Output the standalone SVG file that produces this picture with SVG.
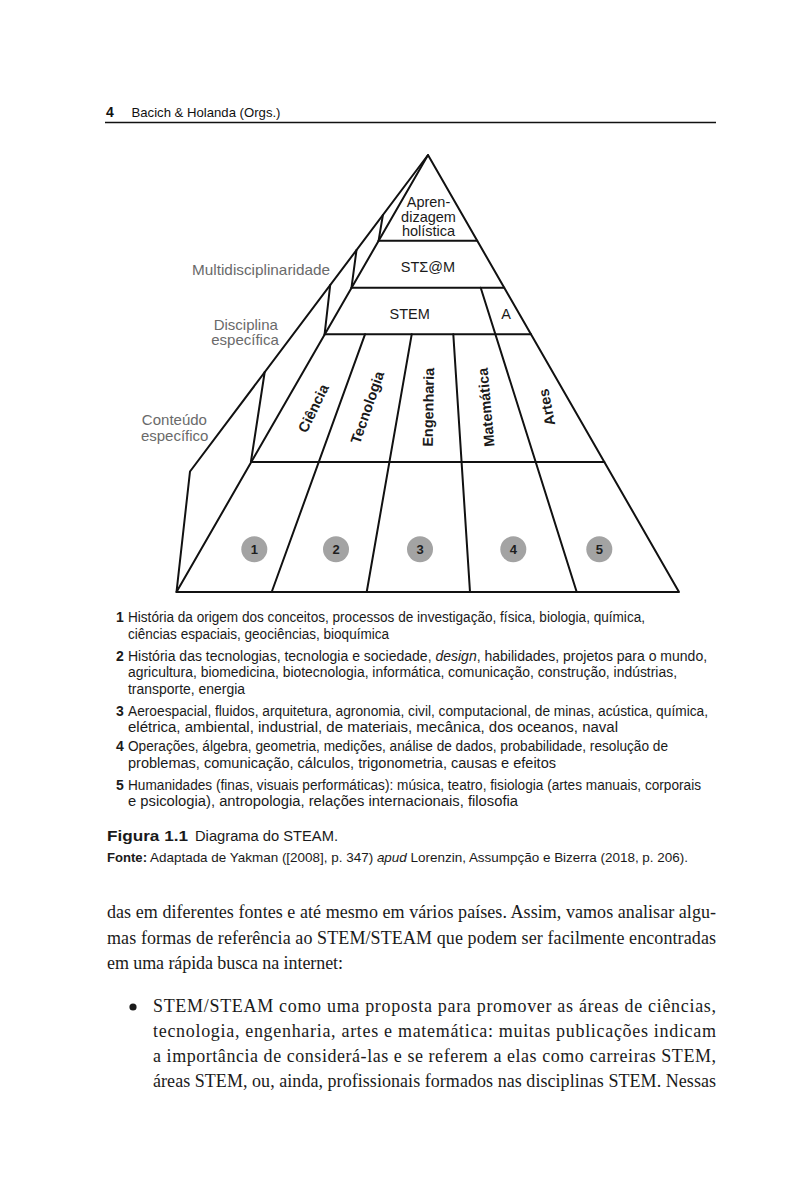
<svg xmlns="http://www.w3.org/2000/svg" width="812" height="1200" viewBox="0 0 812 1200">
<defs>
<style>
.sans{font-family:'Liberation Sans',Arial,sans-serif;}
.serif{font-family:'Liberation Serif','Times New Roman',serif;}
.ln{stroke:#111;stroke-width:2;fill:none;stroke-linecap:round;stroke-linejoin:round;}
.gray{fill:#6a6a6a;font-size:15px;}
.lvl{fill:#1a1a1a;font-size:14.5px;}
.disc{fill:#1a1a1a;font-size:14.5px;font-weight:bold;}
.circ{fill:#a3a3a3;}
.num{fill:#1e1e1e;font-size:13px;font-weight:bold;}
.list{fill:#1a1a1a;font-size:14px;}
.body{fill:#1a1a1a;font-size:18px;}
</style>
</defs>
<rect x="0" y="0" width="812" height="1200" fill="#fff"/>

<g id="header">
<text class="sans" x="106" y="117" font-size="14" font-weight="bold" fill="#111">4</text>
<text class="sans" x="131.5" y="117" font-size="13.5" fill="#111" textLength="149" lengthAdjust="spacingAndGlyphs">Bacich &amp; Holanda (Orgs.)</text>
<line x1="105" y1="122.5" x2="716" y2="122.5" stroke="#111" stroke-width="1.3"/>
</g>

<g id="connectors">
<polyline class="ln" points="428,155 190,471.5 176.5,592"/>
<polygon class="ln" points="428,155 176.5,592 679,592"/>
<line class="ln" x1="378.6" y1="240.7" x2="382.9" y2="215"/>
<line class="ln" x1="351.5" y1="287.7" x2="356.5" y2="250"/>
<line class="ln" x1="324.6" y1="334.3" x2="330.2" y2="285"/>
<line class="ln" x1="250.9" y1="462" x2="264.7" y2="372"/>
<line class="ln" x1="378.6" y1="240.7" x2="477.2" y2="240.7"/>
<line class="ln" x1="351.5" y1="287.7" x2="504.2" y2="287.7"/>
<line class="ln" x1="324.6" y1="334.3" x2="531" y2="334.3"/>
<line class="ln" x1="250.9" y1="462" x2="604.3" y2="462"/>
<line class="ln" x1="480.7" y1="287.7" x2="576.7" y2="592"/>
<line class="ln" x1="365" y1="334.3" x2="271.7" y2="592"/>
<line class="ln" x1="411.7" y1="334.3" x2="366.7" y2="592"/>
<line class="ln" x1="453.3" y1="334.3" x2="470" y2="592"/>
</g>

<g id="n-aprendizagem">
<text class="sans lvl" text-anchor="middle" x="428.5" y="207">Apren-</text>
<text class="sans lvl" text-anchor="middle" x="428.5" y="221.5">dizagem</text>
<text class="sans lvl" text-anchor="middle" x="428.5" y="236">holística</text>
</g>
<g id="n-stsigmam"><text class="sans lvl" text-anchor="middle" x="428" y="271.5">STΣ@M</text></g>
<g id="n-stem"><text class="sans lvl" text-anchor="middle" x="409.7" y="318.5">STEM</text></g>
<g id="n-a"><text class="sans lvl" text-anchor="middle" x="506" y="318.5">A</text></g>

<g id="n-ciencia"><text class="sans disc" text-anchor="middle" dy="0.35em" transform="translate(313.3,408.3) rotate(-64)">Ciência</text></g>
<g id="n-tecnologia"><text class="sans disc" text-anchor="middle" dy="0.35em" transform="translate(367.3,407.3) rotate(-71)">Tecnologia</text></g>
<g id="n-engenharia"><text class="sans disc" text-anchor="middle" dy="0.35em" transform="translate(428.3,407.3) rotate(-89)">Engenharia</text></g>
<g id="n-matematica"><text class="sans disc" text-anchor="middle" dy="0.35em" transform="translate(486,407.3) rotate(-95)">Matemática</text></g>
<g id="n-artes"><text class="sans disc" text-anchor="middle" dy="0.35em" transform="translate(546.7,407.3) rotate(-101)">Artes</text></g>

<g id="n-1"><circle class="circ" cx="254.3" cy="549.3" r="13"/><text class="sans num" text-anchor="middle" x="254.3" y="554">1</text></g>
<g id="n-2"><circle class="circ" cx="336" cy="549.3" r="13"/><text class="sans num" text-anchor="middle" x="336" y="554">2</text></g>
<g id="n-3"><circle class="circ" cx="420" cy="549.3" r="13"/><text class="sans num" text-anchor="middle" x="420" y="554">3</text></g>
<g id="n-4"><circle class="circ" cx="513.3" cy="549.3" r="13"/><text class="sans num" text-anchor="middle" x="513.3" y="554">4</text></g>
<g id="n-5"><circle class="circ" cx="599.3" cy="549.3" r="13"/><text class="sans num" text-anchor="middle" x="599.3" y="554">5</text></g>

<g id="n-multi"><text class="sans gray" text-anchor="middle" x="261" y="275" textLength="138" lengthAdjust="spacingAndGlyphs">Multidisciplinaridade</text></g>
<g id="n-disciplina">
<text class="sans gray" text-anchor="middle" x="245.8" y="330">Disciplina</text>
<text class="sans gray" text-anchor="middle" x="245" y="345">específica</text>
</g>
<g id="n-conteudo">
<text class="sans gray" text-anchor="middle" x="174.4" y="425">Conteúdo</text>
<text class="sans gray" text-anchor="middle" x="174.7" y="440.5">específico</text>
</g>

<g id="legend" class="sans list">
<text x="116" y="622" font-weight="bold">1</text>
<text x="128" y="622" textLength="517" lengthAdjust="spacingAndGlyphs">História da origem dos conceitos, processos de investigação, física, biologia, química,</text>
<text x="128" y="638.5" textLength="261" lengthAdjust="spacingAndGlyphs">ciências espaciais, geociências, bioquímica</text>
<text x="116" y="660.5" font-weight="bold">2</text>
<text x="128" y="660.5">História das tecnologias, tecnologia e sociedade, <tspan font-style="italic">design</tspan>, habilidades, projetos para o mundo,</text>
<text x="128" y="677" textLength="549" lengthAdjust="spacingAndGlyphs">agricultura, biomedicina, biotecnologia, informática, comunicação, construção, indústrias,</text>
<text x="128" y="693.5" textLength="117" lengthAdjust="spacingAndGlyphs">transporte, energia</text>
<text x="116" y="715.5" font-weight="bold">3</text>
<text x="128" y="715.5" textLength="580" lengthAdjust="spacingAndGlyphs">Aeroespacial, fluidos, arquitetura, agronomia, civil, computacional, de minas, acústica, química,</text>
<text x="128" y="732" textLength="490" lengthAdjust="spacingAndGlyphs">elétrica, ambiental, industrial, de materiais, mecânica, dos oceanos, naval</text>
<text x="116" y="751" font-weight="bold">4</text>
<text x="128" y="751" textLength="540" lengthAdjust="spacingAndGlyphs">Operações, álgebra, geometria, medições, análise de dados, probabilidade, resolução de</text>
<text x="128" y="767.5" textLength="428" lengthAdjust="spacingAndGlyphs">problemas, comunicação, cálculos, trigonometria, causas e efeitos</text>
<text x="116" y="789.5" font-weight="bold">5</text>
<text x="128" y="789.5" textLength="573" lengthAdjust="spacingAndGlyphs">Humanidades (finas, visuais performáticas): música, teatro, fisiologia (artes manuais, corporais</text>
<text x="128" y="806" textLength="390" lengthAdjust="spacingAndGlyphs">e psicologia), antropologia, relações internacionais, filosofia</text>
</g>

<g id="caption" class="sans" fill="#1a1a1a">
<text x="107" y="841" font-size="15.5" font-weight="bold" textLength="81" lengthAdjust="spacingAndGlyphs">Figura 1.1</text>
<text x="195" y="841" font-size="15.5" textLength="143" lengthAdjust="spacingAndGlyphs">Diagrama do STEAM.</text>
<text x="107" y="862" font-size="13.5" font-weight="bold" textLength="40" lengthAdjust="spacingAndGlyphs">Fonte:</text>
<text x="150" y="862" font-size="13.5" textLength="538" lengthAdjust="spacingAndGlyphs">Adaptada de Yakman ([2008], p. 347) <tspan font-style="italic">apud</tspan> Lorenzin, Assumpção e Bizerra (2018, p. 206).</text>
</g>

<g id="bodytext" class="serif body">
<text x="107" y="918" textLength="609">das em diferentes fontes e até mesmo em vários países. Assim, vamos analisar algu-</text>
<text x="107" y="944" textLength="609">mas formas de referência ao STEM/STEAM que podem ser facilmente encontradas</text>
<text x="107" y="969" textLength="236">em uma rápida busca na internet:</text>
<circle cx="133" cy="1007" r="3.6" fill="#1a1a1a"/>
<text x="153" y="1012" textLength="563">STEM/STEAM como uma proposta para promover as áreas de ciências,</text>
<text x="153" y="1037" textLength="563">tecnologia, engenharia, artes e matemática: muitas publicações indicam</text>
<text x="153" y="1062" textLength="563">a importância de considerá-las e se referem a elas como carreiras STEM,</text>
<text x="153" y="1087" textLength="563">áreas STEM, ou, ainda, profissionais formados nas disciplinas STEM. Nessas</text>
</g>
</svg>
